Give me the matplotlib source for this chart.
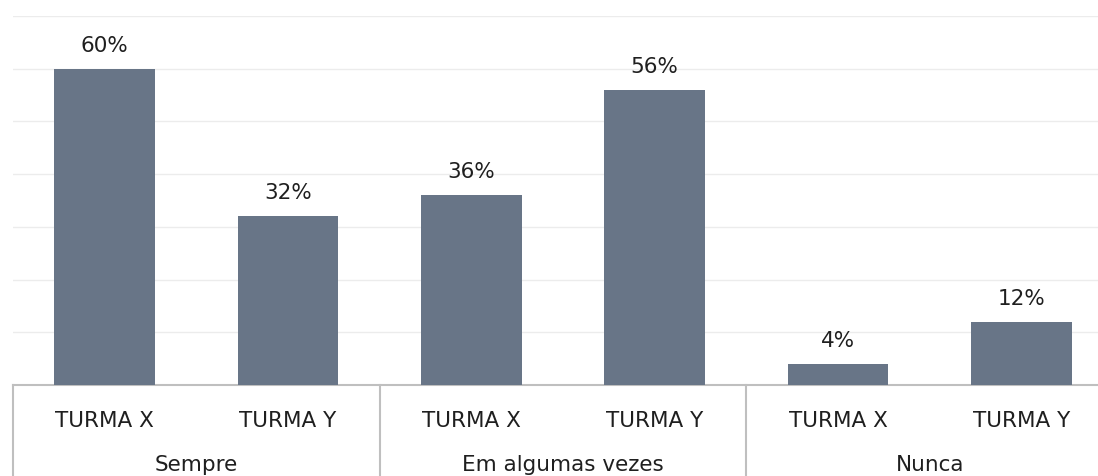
import matplotlib
matplotlib.use("Agg")
import matplotlib.pyplot as plt
from matplotlib.transforms import blended_transform_factory

groups = ["Sempre", "Em algumas vezes", "Nunca"]
turmas = ["TURMA X", "TURMA Y"]
values = [60, 32, 36, 56, 4, 12]
labels = ["60%", "32%", "36%", "56%", "4%", "12%"]

plt.rcParams['font.family'] = ['DejaVu Sans']

W, H = 1098, 477
fig = plt.figure(figsize=(W / 100, H / 100), dpi=100)
left_px, right_px = 13, 1113
base_px, top_px = 386, 17
ax = fig.add_axes([left_px / W, (H - base_px) / H, (right_px - left_px) / W, (base_px - top_px) / H])

xs = list(range(len(values)))
ax.bar(xs, values, width=0.55, color="#687587", zorder=3)
ax.set_xlim(-0.5, len(values) - 0.5)
ax.set_ylim(0, 70)
ax.set_yticks(range(0, 71, 10))
ax.yaxis.grid(True, color="#ececec", linewidth=1, zorder=0)
ax.tick_params(axis='y', left=False, labelleft=False)
for s in ["top", "right", "left"]:
    ax.spines[s].set_visible(False)
ax.spines["bottom"].set_color("#bfbfbf")
ax.spines["bottom"].set_linewidth(1.5)

fs = 15.5
for x, v, lab in zip(xs, values, labels):
    ax.annotate(lab, (x, v), xytext=(0, 10), textcoords="offset points",
                ha="center", va="bottom", fontsize=fs, color="#1f1f1f")

ax.set_xticks(xs)
ax.set_xticklabels(turmas * len(groups), fontsize=fs, color="#1f1f1f")
ax.tick_params(axis='x', length=0, pad=18)

tr = blended_transform_factory(ax.transData, fig.transFigure)
for i, g in enumerate(groups):
    ax.text(2 * i + 0.5, (H - 465) / H, g, transform=tr, ha="center", va="center",
            fontsize=fs, color="#1f1f1f")
for b in [-0.5, 1.5, 3.5, 5.5]:
    ax.plot([b, b], [(H - base_px) / H, 0], transform=tr, color="#bfbfbf",
            linewidth=1.5, clip_on=False)

fig.savefig("out.png", dpi=100)
